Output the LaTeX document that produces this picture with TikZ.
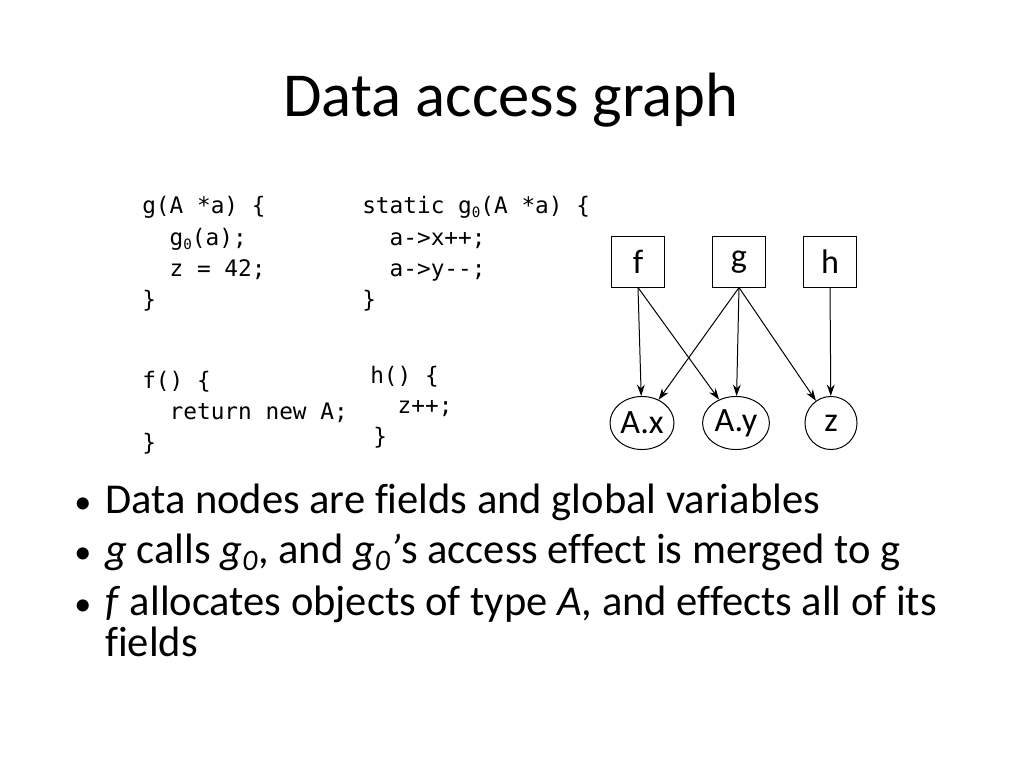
\documentclass[tikz,border=0pt]{standalone}
\usepackage{fontspec}
\setmainfont[Ligatures={NoCommon}]{Carlito}
\setmonofont{DejaVu Sans Mono}
\usetikzlibrary{arrows.meta,shapes.geometric}
\tikzset{
  titletext/.style={anchor=base,inner sep=0pt,font=\fontsize{44}{50}\selectfont},
  bullettext/.style={anchor=base west,inner sep=0pt,font=\fontsize{29.9}{35}\selectfont},
  bulletdot/.style={anchor=base west,inner sep=0pt,font=\fontsize{24}{29}\selectfont},
  codetext/.style={anchor=base west,inner sep=0pt,font=\ttfamily\fontsize{16}{20}\selectfont},
  fnbox/.style={draw,line width=0.7pt,rectangle,minimum width=36.6pt,minimum height=35.2pt,inner sep=0pt,font=\fontsize{24}{29}\selectfont},
  datanode/.style={draw,line width=0.7pt,ellipse,minimum height=37.3pt,inner sep=0pt,font=\fontsize{24}{29}\selectfont},
  edge/.style={line width=0.7pt,-{Stealth[length=8pt,width=5.5pt]}}
}
\newcommand{\csub}{\raisebox{-0.25ex}{\fontsize{10}{12}\selectfont 0}}
\begin{document}
\begin{tikzpicture}[x=0.703125pt,y=-0.703125pt]
\useasboundingbox (0,0) rectangle (1024,768);
% title
\node[titletext] (title) at (511,117) {Data access graph};
% code block g
\node[codetext] (c1) at (142,214) {g(A *a) \{};
\node[codetext] (c2) at (142,246) {\ \ g\csub(a);};
\node[codetext] (c3) at (142,277) {\ \ z = 42;};
\node[codetext] (c4) at (142,308) {\}};
% code block g0
\node[codetext] (d1) at (362,214) {static g\csub(A *a) \{};
\node[codetext] (d2) at (362,246) {\ \ a->x++;};
\node[codetext] (d3) at (362,277) {\ \ a->y--;};
\node[codetext] (d4) at (362,308) {\}};
% code block f
\node[codetext] (e1) at (142,388) {f() \{};
\node[codetext] (e2) at (142,419) {\ \ return new A;};
\node[codetext] (e3) at (142,450) {\}};
% code block h
\node[codetext] (h1) at (370,383) {h() \{};
\node[codetext] (h2) at (370,413) {\ \ z++;};
\node[codetext] (h3) at (373,444) {\}};
% graph
\node[fnbox] (f) at (638,262) {f};
\node[fnbox] (g) at (739,262) {g};
\node[fnbox] (h) at (830,262) {h};
\node[datanode,minimum width=45pt] (Ax) at (642,423) {A.x};
\node[datanode,minimum width=47pt] (Ay) at (736,423) {A.y};
\node[datanode,minimum width=36.6pt] (z) at (831,423) {z};
\draw[edge] (f.south) -- (Ax);
\draw[edge] (f.south) -- (Ay);
\draw[edge] (g.south) -- (Ax);
\draw[edge] (g.south) -- (Ay);
\draw[edge] (g.south) -- (z);
\draw[edge] (h.south) -- (z);
% bullets
\node[bulletdot] (b1) at (74,513) {•};
\node[bullettext] (t1) at (105,513) {Data nodes are fields and global variables};
\node[bulletdot] (b2) at (74,563) {•};
\node[bullettext] (t2) at (105,563) {\textit{g} calls \textit{g\textsubscript{0}}, and \textit{g\textsubscript{0}’}s access effect is merged to g};
\node[bulletdot] (b3) at (74,615) {•};
\node[bullettext] (t3) at (105,615) {\textit{f} allocates objects of type \textit{A}, and effects all of its};
\node[bullettext] (t4) at (105,656) {fields};
\end{tikzpicture}
\end{document}
